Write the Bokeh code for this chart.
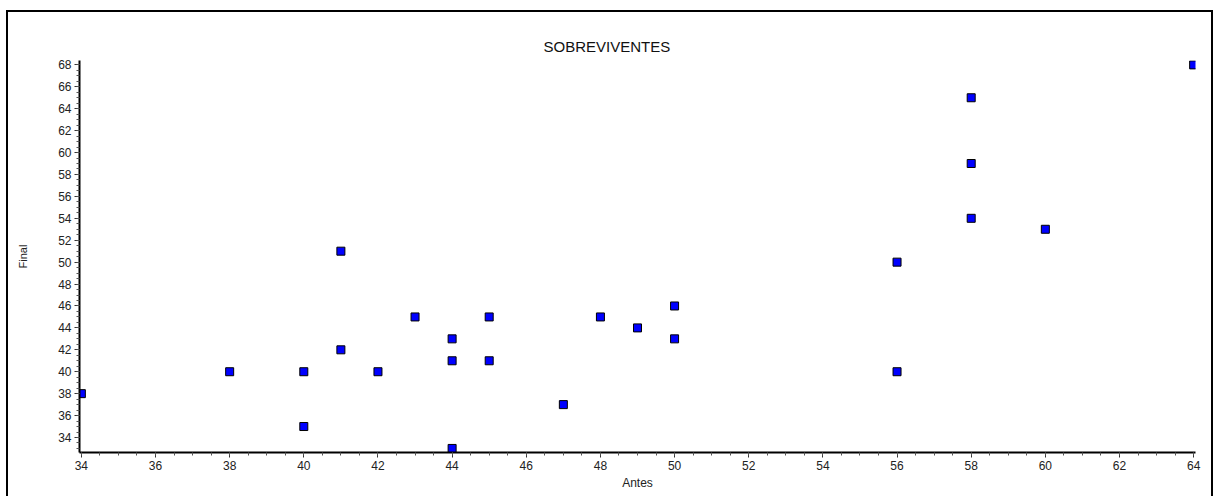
from bokeh.plotting import figure
from bokeh.models import Range1d, SingleIntervalTicker
from bokeh.embed import file_html
from bokeh.resources import INLINE

# Data (PaCO2: Antes vs Final)
antes = [34, 38, 40, 40, 41, 41, 42, 43, 44, 44, 44, 45, 45, 47, 48, 49, 50, 50,
         56, 56, 58, 58, 58, 60, 64]
final = [38, 40, 40, 35, 51, 42, 40, 45, 43, 41, 33, 45, 41, 37, 45, 44, 46, 43,
         50, 40, 65, 59, 54, 53, 68]

title_text = "SOBREVIVENTES"
x_label = "Antes"
y_label = "Final"

FONT = "Liberation Sans"

p = figure(width=1207, height=486, output_backend="svg", toolbar_location=None,
           x_range=Range1d(33.95, 64.05), y_range=Range1d(32.63, 68.4),
           min_border_left=71, min_border_right=20, min_border_top=48,
           min_border_bottom=46, background_fill_color="white",
           border_fill_color="white")
p.margin = (10, 0, 0, 6)
p.styles = {"border-top": "2px solid black", "border-left": "2px solid black",
            "border-right": "2px solid black"}

p.outline_line_color = None
p.grid.visible = False

p.title.text = title_text
p.title.align = "left"
p.title.offset = 464
p.title.standoff = 12
p.title.text_font = FONT
p.title.text_font_size = "15px"
p.title.text_font_style = "normal"
p.title.text_color = "#111111"

for ax in (p.xaxis[0], p.yaxis[0]):
    ax.ticker = SingleIntervalTicker(interval=2, num_minor_ticks=4)
    ax.axis_line_width = 2
    ax.axis_line_color = "black"
    ax.major_tick_out = 5
    ax.major_tick_in = 0
    ax.minor_tick_out = 3
    ax.minor_tick_in = 0
    ax.major_tick_line_color = "#333333"
    ax.minor_tick_line_color = "#555555"
    ax.major_label_text_font = FONT
    ax.major_label_text_font_size = "12px"
    ax.major_label_text_color = "#222222"
    ax.major_label_standoff = 3
    ax.axis_label_text_font = FONT
    ax.axis_label_text_font_style = "normal"
    ax.axis_label_text_color = "#222222"

p.xaxis.major_label_standoff = 3
p.xaxis.axis_label = x_label
p.xaxis.axis_label_text_font_size = "12px"
p.xaxis.axis_label_standoff = 3
p.yaxis.axis_label = y_label
p.yaxis.axis_label_text_font_size = "11px"
p.yaxis.axis_label_standoff = 26

p.scatter(antes, final, marker="square", size=8, fill_color="#0000FF",
          line_color="black", line_width=1)

open("out.html", "w").write(file_html(p, INLINE))
